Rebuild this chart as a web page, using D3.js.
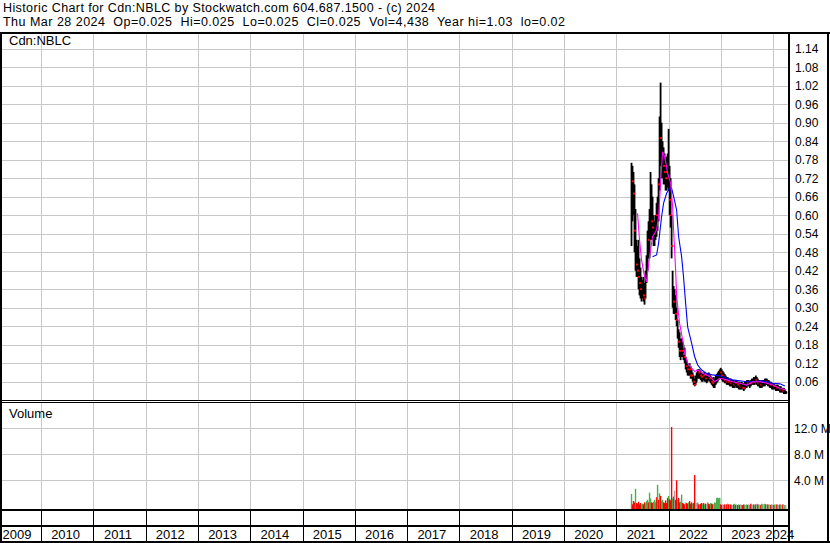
<!DOCTYPE html>
<html><head><meta charset="utf-8">
<script src="https://cdn.jsdelivr.net/npm/d3@7"></script>
<style>body{margin:0;background:#fff}svg{display:block;font-family:"Liberation Sans",Arial,sans-serif}</style>
</head><body><svg id="c" width="830" height="543"></svg>
<script>
const titleLine = "Historic Chart for Cdn:NBLC by Stockwatch.com 604.687.1500 - (c) 2024";
const infoLine = "Thu Mar 28 2024  Op=0.025  Hi=0.025  Lo=0.025  Cl=0.025  Vol=4,438  Year hi=1.03  lo=0.02";
const symbol = "Cdn:NBLC";
const years = [2009,2010,2011,2012,2013,2014,2015,2016,2017,2018,2019,2020,2021,2022,2023,2024];
const priceTicks = [0.06,0.12,0.18,0.24,0.30,0.36,0.42,0.48,0.54,0.60,0.66,0.72,0.78,0.84,0.90,0.96,1.02,1.08,1.14];
const volTicks = [4,8,12];

const weeks = [
"2021-04-16","2021-04-23","2021-04-30","2021-05-07","2021-05-14","2021-05-21","2021-05-28","2021-06-04","2021-06-11","2021-06-18","2021-06-25","2021-07-02","2021-07-09","2021-07-16","2021-07-23","2021-07-30","2021-08-06","2021-08-13","2021-08-20","2021-08-27","2021-09-03","2021-09-10","2021-09-17","2021-09-24","2021-10-01","2021-10-08","2021-10-15","2021-10-22","2021-10-29","2021-11-05","2021-11-12","2021-11-19","2021-11-26","2021-12-03","2021-12-10","2021-12-17","2021-12-24","2021-12-31",
"2022-01-07","2022-01-14","2022-01-21","2022-01-28","2022-02-04","2022-02-11","2022-02-18","2022-02-25","2022-03-04","2022-03-11","2022-03-18","2022-03-25","2022-04-01","2022-04-08","2022-04-14","2022-04-22","2022-04-29","2022-05-06","2022-05-13","2022-05-20","2022-05-27","2022-06-03","2022-06-10","2022-06-17","2022-06-24","2022-07-01","2022-07-08","2022-07-15","2022-07-22","2022-07-29","2022-08-05","2022-08-12","2022-08-19","2022-08-26","2022-09-02","2022-09-09","2022-09-16","2022-09-23","2022-09-30","2022-10-07","2022-10-14","2022-10-21","2022-10-28","2022-11-04","2022-11-11","2022-11-18","2022-11-25","2022-12-02","2022-12-09","2022-12-16","2022-12-23","2022-12-30",
"2023-01-06","2023-01-13","2023-01-20","2023-01-27","2023-02-03","2023-02-10","2023-02-17","2023-02-24","2023-03-03","2023-03-10","2023-03-17","2023-03-24","2023-03-31","2023-04-07","2023-04-14","2023-04-21","2023-04-28","2023-05-05","2023-05-12","2023-05-19","2023-05-26","2023-06-02","2023-06-09","2023-06-16","2023-06-23","2023-06-30","2023-07-07","2023-07-14","2023-07-21","2023-07-28","2023-08-04","2023-08-11","2023-08-18","2023-08-25","2023-09-01","2023-09-08","2023-09-15","2023-09-22","2023-09-29","2023-10-06","2023-10-13","2023-10-20","2023-10-27","2023-11-03","2023-11-10","2023-11-17","2023-11-24","2023-12-01","2023-12-08","2023-12-15","2023-12-22","2023-12-29",
"2024-01-05","2024-01-12","2024-01-19","2024-01-26","2024-02-02","2024-02-09","2024-02-16","2024-02-23","2024-03-01","2024-03-08","2024-03-15","2024-03-22","2024-03-28"];

const high = [0.77,0.76,0.74,0.70,0.62,0.52,0.50,0.52,0.46,0.43,0.40,0.39,0.40,0.38,0.42,0.47,0.55,0.58,0.62,0.74,0.70,0.66,0.60,0.58,0.60,0.64,0.66,0.72,0.92,1.03,0.90,0.84,0.82,0.80,0.78,0.79,0.80,0.88,
0.76,0.72,0.60,0.42,0.37,0.36,0.34,0.30,0.26,0.23,0.22,0.20,0.20,0.19,0.18,0.17,0.14,0.13,0.12,0.11,0.12,0.11,0.10,0.09,0.08,0.07,0.08,0.09,0.10,0.10,0.10,0.095,0.09,0.085,0.09,0.09,0.085,0.08,0.085,0.09,0.085,0.08,0.075,0.07,0.075,0.07,0.08,0.085,0.09,0.095,0.10,0.105,
0.10,0.095,0.09,0.085,0.08,0.075,0.075,0.07,0.07,0.07,0.065,0.065,0.065,0.06,0.065,0.065,0.06,0.06,0.06,0.055,0.06,0.055,0.055,0.06,0.06,0.065,0.065,0.065,0.06,0.065,0.07,0.07,0.075,0.075,0.08,0.075,0.07,0.065,0.065,0.06,0.065,0.065,0.065,0.07,0.07,0.07,0.065,0.065,0.06,0.06,0.055,0.055,
0.055,0.05,0.05,0.05,0.05,0.045,0.045,0.045,0.04,0.04,0.04,0.035,0.03];

const low = [0.50,0.58,0.60,0.48,0.42,0.40,0.40,0.36,0.34,0.33,0.32,0.33,0.32,0.31,0.33,0.38,0.42,0.46,0.46,0.52,0.52,0.52,0.50,0.50,0.52,0.53,0.55,0.58,0.68,0.76,0.72,0.72,0.70,0.70,0.68,0.68,0.69,0.68,
0.60,0.56,0.46,0.30,0.28,0.28,0.26,0.24,0.20,0.17,0.14,0.13,0.14,0.14,0.13,0.12,0.10,0.09,0.08,0.08,0.08,0.07,0.07,0.06,0.05,0.045,0.05,0.06,0.07,0.07,0.07,0.065,0.06,0.06,0.065,0.06,0.06,0.055,0.06,0.065,0.06,0.055,0.05,0.045,0.04,0.04,0.05,0.055,0.06,0.065,0.07,0.07,
0.065,0.06,0.06,0.055,0.055,0.05,0.05,0.05,0.045,0.045,0.045,0.04,0.04,0.04,0.045,0.04,0.04,0.035,0.035,0.035,0.035,0.035,0.03,0.035,0.04,0.04,0.045,0.045,0.04,0.045,0.05,0.05,0.05,0.05,0.055,0.05,0.045,0.045,0.04,0.04,0.04,0.045,0.045,0.045,0.05,0.05,0.045,0.045,0.04,0.04,0.035,0.035,
0.035,0.035,0.03,0.03,0.03,0.03,0.025,0.025,0.025,0.025,0.02,0.02,0.02];

const close = [0.70,0.71,0.67,0.55,0.45,0.44,0.42,0.40,0.38,0.36,0.34,0.35,0.34,0.33,0.40,0.45,0.50,0.52,0.55,0.66,0.58,0.56,0.54,0.55,0.57,0.60,0.62,0.70,0.88,0.85,0.80,0.78,0.76,0.74,0.72,0.74,0.72,0.72,
0.65,0.60,0.50,0.34,0.32,0.30,0.28,0.26,0.22,0.19,0.16,0.15,0.17,0.16,0.15,0.14,0.12,0.11,0.10,0.09,0.10,0.08,0.08,0.07,0.06,0.05,0.06,0.08,0.08,0.09,0.08,0.08,0.075,0.07,0.08,0.075,0.07,0.065,0.075,0.08,0.07,0.065,0.06,0.055,0.05,0.055,0.065,0.07,0.075,0.08,0.085,0.09,
0.08,0.075,0.07,0.065,0.065,0.06,0.06,0.06,0.055,0.055,0.055,0.05,0.05,0.05,0.055,0.05,0.05,0.045,0.045,0.045,0.045,0.04,0.04,0.045,0.05,0.05,0.055,0.055,0.05,0.055,0.06,0.06,0.06,0.065,0.065,0.06,0.055,0.055,0.05,0.05,0.05,0.055,0.055,0.055,0.06,0.06,0.055,0.055,0.05,0.05,0.045,0.045,
0.045,0.04,0.04,0.04,0.04,0.035,0.035,0.035,0.03,0.03,0.03,0.025,0.025];

// 1 = up, -1 = down, 0 = unchanged
const direction = [1,-1,-1,-1,1,-1,-1,-1,-1,-1,1,1,-1,-1,1,1,1,-1,1,1,-1,-1,1,1,1,-1,1,-1,1,-1,1,1,-1,-1,-1,-1,-1,1,
-1,-1,-1,1,-1,0,-1,-1,1,-1,-1,1,1,-1,-1,-1,0,-1,-1,1,-1,-1,-1,1,-1,-1,0,0,1,-1,1,-1,-1,1,-1,1,-1,0,1,-1,-1,1,-1,-1,0,1,1,1,1,1,1,-1,
-1,0,1,-1,0,-1,1,-1,0,-1,1,0,-1,1,-1,0,-1,1,-1,0,1,-1,-1,1,0,1,-1,0,1,-1,1,0,-1,1,-1,0,-1,1,0,-1,1,1,0,1,-1,0,-1,1,0,-1,1,0,
-1,1,0,-1,1,0,-1,1,0,-1,0,1,0];

const volume = [1.9,0.3,0.8,0.6,2.7,0.5,0.4,0.7,0.3,0.5,0.3,0.4,0.3,0.6,0.5,0.8,1.0,0.6,2.1,1.2,0.6,0.5,0.7,1.0,0.6,1.4,3.3,1.0,2.0,1.6,0.8,1.0,0.6,0.5,0.9,0.5,1.3,1.6,
1.1,0.9,12.2,1.2,1.5,2.4,1.0,4.0,1.0,1.3,0.6,0.7,1.8,0.5,0.4,0.3,0.6,0.5,0.4,0.6,0.8,0.4,0.6,0.4,0.5,4.8,0.4,0.5,0.6,0.3,0.3,0.4,0.5,0.3,0.5,0.3,0.4,0.3,0.6,0.4,0.3,0.5,0.4,0.3,0.4,0.6,0.5,1.3,1.3,1.2,1.3,0.3,
0.2,0.3,0.2,0.3,0.2,0.3,0.4,0.3,0.2,0.3,0.2,0.2,0.3,0.4,0.2,0.3,0.2,0.3,0.2,0.3,0.2,0.2,0.3,0.2,0.2,0.3,0.2,0.3,0.2,0.4,0.3,0.2,0.3,0.2,0.3,0.4,0.3,0.2,0.3,0.2,0.4,0.3,0.3,0.4,0.3,0.2,0.3,0.2,0.3,0.2,0.3,0.2,
0.2,0.3,0.2,0.3,0.2,0.2,0.3,0.2,0.2,0.3,0.2,0.2,0.1];

const maShortIdx = [6,8,10,13,15,18,21,25,27,29,31,33,35,36,39,41,42,44,45,48,51,53,56,60,63,66,71,78,83,88,95,101,108,115,121,128,135,141,148,154];
const maShortVal = [0.606,0.520,0.455,0.401,0.384,0.465,0.530,0.552,0.595,0.704,0.806,0.790,0.757,0.736,0.704,0.628,0.552,0.422,0.336,0.249,0.195,0.152,0.120,0.104,0.093,0.098,0.087,0.077,0.060,0.071,0.066,0.060,0.055,0.049,0.060,0.060,0.055,0.049,0.039,0.033];
const maLongIdx = [21,25,27,30,32,35,38,40,42,45,47,50,52,54,56,60,63,66,70,75,81,88,95,101,108,115,121,128,135,141,148,153];
const maLongVal = [0.465,0.471,0.509,0.595,0.639,0.671,0.687,0.687,0.661,0.617,0.530,0.465,0.401,0.314,0.238,0.184,0.141,0.114,0.098,0.087,0.082,0.079,0.071,0.066,0.063,0.060,0.060,0.063,0.060,0.055,0.053,0.046];

const svg = d3.select('#c');
const PL = 2, PR = 789, PT = 33, PB = 401, VT = 403, VB = 510;
const parse = d3.timeParse("%Y-%m-%d");
const dates = weeks.map(parse);
const x = d3.scaleTime().domain([new Date(2009,0,1), new Date(2024,0,1)]).range([-11.3, 773.3]);
const y = d3.scaleLinear().domain([0.06, 1.02]).range([381.7, 85.7]);
const yv = d3.scaleLinear().domain([4, 12]).range([480.3, 428.3]);
const grid = "#c8c8c8";
const dirColor = d => d > 0 ? "#48b048" : (d < 0 ? "#ff0000" : "#a8a8a8");

svg.append("rect").attr("width",830).attr("height",543).attr("fill","#fff");

// header
svg.append("text").attr("x",3).attr("y",11.5).attr("font-size",12.5).attr("fill","#000")
  .attr("textLength",432).attr("lengthAdjust","spacing").text(titleLine);
svg.append("text").attr("x",3).attr("y",25.5).attr("font-size",12.5).attr("fill","#000")
  .attr("xml:space","preserve").style("white-space","pre")
  .attr("textLength",562).attr("lengthAdjust","spacing").text(infoLine);

const defs = svg.append("defs");
defs.append("clipPath").attr("id","cp").append("rect").attr("x",PL).attr("y",PT).attr("width",PR-PL).attr("height",PB-PT);
defs.append("clipPath").attr("id","cv").append("rect").attr("x",PL).attr("y",VT).attr("width",PR-PL).attr("height",VB-VT);

const yearBounds = years.slice(1).map(yr => new Date(yr,0,1));

// price grid
const gp = svg.append("g");
gp.selectAll("line.h").data(priceTicks).join("line")
  .attr("x1",PL).attr("x2",PR).attr("y1",d=>Math.round(y(d))+0.5).attr("y2",d=>Math.round(y(d))+0.5)
  .attr("stroke",grid).attr("stroke-width",1);
gp.selectAll("line.v").data(yearBounds).join("line")
  .attr("x1",d=>Math.round(x(d))+0.5).attr("x2",d=>Math.round(x(d))+0.5).attr("y1",PT).attr("y2",PB)
  .attr("stroke",grid).attr("stroke-width",1);

// volume grid
const gv = svg.append("g");
gv.selectAll("line.h").data(volTicks).join("line")
  .attr("x1",PL).attr("x2",PR).attr("y1",d=>Math.round(yv(d))+0.5).attr("y2",d=>Math.round(yv(d))+0.5)
  .attr("stroke",grid).attr("stroke-width",1);
gv.selectAll("line.v").data(yearBounds).join("line")
  .attr("x1",d=>Math.round(x(d))+0.5).attr("x2",d=>Math.round(x(d))+0.5).attr("y1",VT).attr("y2",VB)
  .attr("stroke",grid).attr("stroke-width",1);

// price bars
const gb = svg.append("g").attr("clip-path","url(#cp)");
gb.selectAll("rect.bar").data(dates).join("rect")
  .attr("x",(d)=>x(d)-0.9).attr("width",1.8)
  .attr("y",(d,i)=>y(high[i])).attr("height",(d,i)=>Math.max(1,y(low[i])-y(high[i])))
  .attr("fill","#000");
gb.selectAll("rect.cl").data(dates).join("rect")
  .attr("x",(d)=>x(d)-0.5).attr("width",2)
  .attr("y",(d,i)=>y(close[i])-1).attr("height",2)
  .attr("fill",(d,i)=> direction[i] < 0 ? "#ff0000" : "#000");

// moving averages
const line = d3.line().x(d=>x(dates[d[0]])).y(d=>y(d[1]));
gb.append("path").datum(maLongIdx.map((k,j)=>[k,maLongVal[j]]))
  .attr("d",line).attr("fill","none").attr("stroke","#0000ff").attr("stroke-width",1.1);
gb.append("path").datum(maShortIdx.map((k,j)=>[k,maShortVal[j]]))
  .attr("d",line).attr("fill","none").attr("stroke","#ff00ff").attr("stroke-width",1.1);

// volume bars
const gvb = svg.append("g").attr("clip-path","url(#cv)");
gvb.selectAll("rect").data(dates).join("rect")
  .attr("x",d=>x(d)-0.7).attr("width",1.4)
  .attr("y",(d,i)=>yv(volume[i])).attr("height",(d,i)=>VB - yv(volume[i]))
  .attr("fill",(d,i)=>dirColor(direction[i]));

// labels
svg.append("text").attr("x",9).attr("y",45).attr("font-size",13).text(symbol);
svg.append("text").attr("x",9).attr("y",417.5).attr("font-size",13).text("Volume");

svg.selectAll("text.py").data(priceTicks).join("text")
  .attr("x",795).attr("y",d=>y(d)+4.3).attr("font-size",12).attr("fill","#000")
  .text(d=>d.toFixed(2));
svg.selectAll("text.vy").data(volTicks).join("text")
  .attr("x",794).attr("y",d=>yv(d)+4.3).attr("font-size",12).attr("fill","#000")
  .text(d=>d.toFixed(1)+" M");

// x axis band
const gx = svg.append("g");
gx.selectAll("line").data(yearBounds).join("line")
  .attr("x1",d=>Math.round(x(d))+0.5).attr("x2",d=>Math.round(x(d))+0.5).attr("y1",VB).attr("y2",542)
  .attr("stroke","#000").attr("stroke-width",1);
gx.selectAll("text").data(years).join("text")
  .attr("x",yr=>{ const a=Math.max(x(new Date(yr,0,1)),-11), b=Math.min(x(new Date(yr+1,0,1)),PR); return Math.max((a+b)/2-1.5,17);})
  .attr("y",539).attr("text-anchor","middle").attr("font-size",13).attr("fill","#000")
  .text(d=>d);

// frame
const frame = svg.append("g").attr("stroke","#000").attr("fill","none");
frame.append("line").attr("x1",0).attr("x2",830).attr("y1",33).attr("y2",33).attr("stroke-width",2);
frame.append("line").attr("x1",1).attr("x2",1).attr("y1",32).attr("y2",543).attr("stroke-width",2);
frame.append("line").attr("x1",789).attr("x2",789).attr("y1",32).attr("y2",543).attr("stroke-width",2);
frame.append("line").attr("x1",828).attr("x2",828).attr("y1",32).attr("y2",543).attr("stroke-width",2);
frame.append("line").attr("x1",0).attr("x2",789).attr("y1",400.5).attr("y2",400.5).attr("stroke-width",1);
frame.append("line").attr("x1",0).attr("x2",789).attr("y1",402.5).attr("y2",402.5).attr("stroke-width",1);
frame.append("line").attr("x1",0).attr("x2",789).attr("y1",510).attr("y2",510).attr("stroke-width",2);
frame.append("line").attr("x1",0).attr("x2",789).attr("y1",526).attr("y2",526).attr("stroke-width",2);
frame.append("line").attr("x1",0).attr("x2",830).attr("y1",542).attr("y2",542).attr("stroke-width",2);
</script></body></html>
